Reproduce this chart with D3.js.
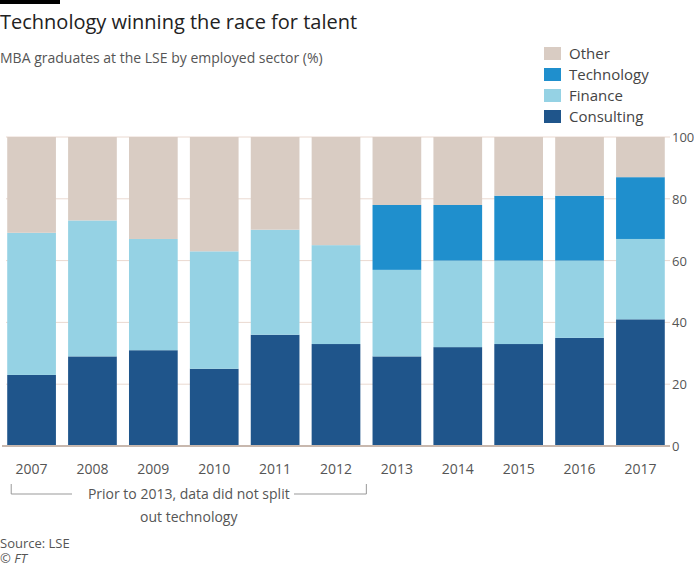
<!DOCTYPE html>
<html><head><meta charset="utf-8">
<script src="https://cdn.jsdelivr.net/npm/d3@7"></script>
<style>
body{margin:0;background:#fff;font-family:"Open Sans",sans-serif;}
</style></head>
<body>
<svg id="chart" width="694" height="568"></svg>
<script>
const years = ["2007","2008","2009","2010","2011","2012","2013","2014","2015","2016","2017"];
const consulting = [23,29,31,25,36,33,29,32,33,35,41];
const finance = [46,44,36,38,34,32,28,28,27,25,26];
const technology = [0,0,0,0,0,0,21,18,21,21,20];
const other = [31,27,33,37,30,35,22,22,19,19,13];
const yTicks = [0,20,40,60,80,100];
const seriesNames = ["Consulting","Finance","Technology","Other"];
const colors = {Consulting:"#1f558b", Finance:"#95d2e4", Technology:"#1f8fcd", Other:"#d9ccc3"};

const svg = d3.select("#chart");
const margin = {top:137, left:6, right:28, bottom:122};
const width = 694, height = 568;
const bodyW = width - margin.left - margin.right;
const bodyH = height - margin.top - margin.bottom;

const rows = years.map((y,i) => ({year:y, Consulting:consulting[i], Finance:finance[i], Technology:technology[i], Other:other[i]}));
const stack = d3.stack().keys(seriesNames)(rows);

const x = d3.scaleBand().domain(years).range([0, bodyW]).paddingInner(0.2).paddingOuter(0.02);
const y = d3.scaleLinear().domain([0,100]).range([bodyH,0]);

// title
svg.append("rect").attr("x",0).attr("y",0).attr("width",60).attr("height",4).attr("fill","#000");
svg.append("text").attr("x",0).attr("y",29).attr("font-size",20).attr("fill","#222").text("Technology winning the race for talent");
svg.append("text").attr("x",0).attr("y",63).attr("font-size",14).attr("fill","#555").text("MBA graduates at the LSE by employed sector (%)");

const g = svg.append("g").attr("transform",`translate(${margin.left},${margin.top})`);

g.selectAll(".grid").data(yTicks).enter().append("line")
  .attr("x1",0).attr("x2",bodyW+4).attr("y1",d=>y(d)).attr("y2",d=>y(d))
  .attr("stroke","#ead9d0").attr("stroke-width",1);

g.selectAll(".layer").data(stack).enter().append("g")
  .attr("fill",d=>colors[d.key])
  .selectAll("rect").data(d=>d).enter().append("rect")
  .attr("x",d=>x(d.data.year)).attr("width",x.bandwidth())
  .attr("y",d=>y(d[1])).attr("height",d=>y(d[0])-y(d[1]));

g.append("line").attr("x1",-4).attr("x2",bodyW+4).attr("y1",y(0)).attr("y2",y(0)).attr("stroke","#c8b8ae").attr("stroke-width",2);

const yAxis = d3.axisRight(y).tickValues(yTicks).tickSize(0).tickPadding(0);
const ya = g.append("g").attr("transform",`translate(${bodyW+6},0)`).call(yAxis);
ya.select(".domain").remove();
ya.selectAll("text").attr("font-size",13).attr("fill","#555").attr("font-family","Open Sans").attr("dy","0.35em");

const xAxis = d3.axisBottom(x).tickSize(0).tickPadding(18);
const xa = g.append("g").attr("transform",`translate(0,${bodyH})`).call(xAxis);
xa.select(".domain").remove();
xa.selectAll("text").attr("font-size",14).attr("fill","#555").attr("font-family","Open Sans");

// bracket
const bx0 = x("2007")+4, bx1 = x("2012")+x.bandwidth()+6, by = bodyH+48;
g.append("path").attr("d",`M${bx0},${by-10}V${by}H${bx1}V${by-10}`).attr("fill","none").attr("stroke","#999");
g.append("rect").attr("x",66).attr("y",by-10).attr("width",222).attr("height",20).attr("fill","#fff");
g.append("text").attr("x",(bx0+bx1)/2).attr("y",by+5).attr("text-anchor","middle").attr("font-size",14).attr("fill","#555").text("Prior to 2013, data did not split");
g.append("text").attr("x",(bx0+bx1)/2).attr("y",by+28).attr("text-anchor","middle").attr("font-size",14).attr("fill","#555").text("out technology");

// legend
const legend = svg.append("g").attr("transform","translate(544,47)");
seriesNames.slice().reverse().forEach((n,i) => {
  legend.append("rect").attr("x",0).attr("y",i*21).attr("width",17).attr("height",13).attr("fill",colors[n]);
  legend.append("text").attr("x",25).attr("y",i*21+12).attr("font-size",15).attr("fill","#444").text(n);
});

svg.append("text").attr("x",0).attr("y",548).attr("font-size",13).attr("fill","#555").text("Source: LSE");
svg.append("text").attr("x",0).attr("y",563).attr("font-size",13).attr("font-style","italic").attr("fill","#555").text("© FT");
</script>
</body></html>
